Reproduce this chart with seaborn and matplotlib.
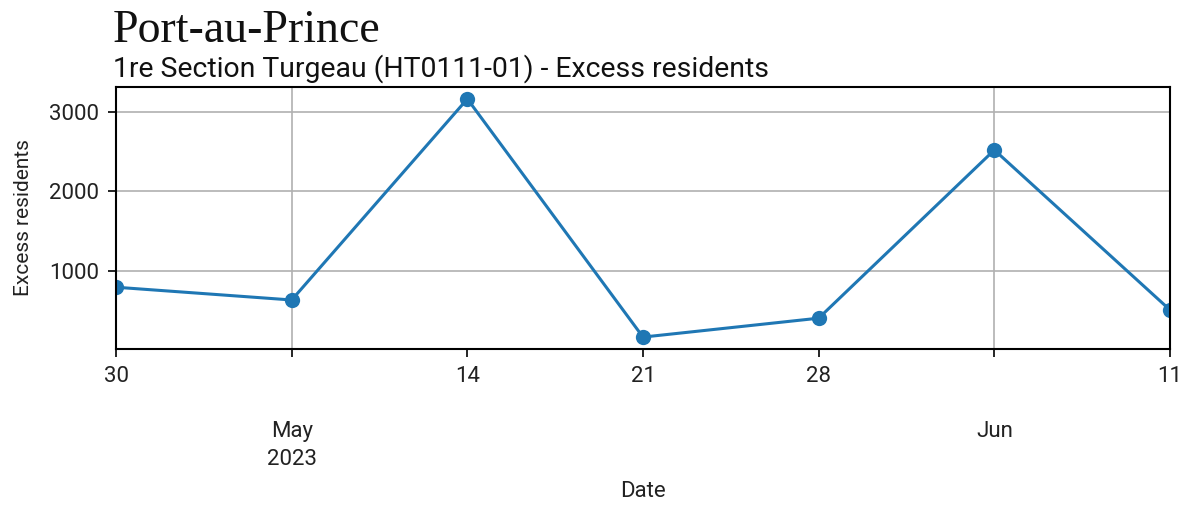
import pandas as pd
import matplotlib
matplotlib.use("Agg")
import matplotlib.pyplot as plt
import seaborn as sns

# weekly values
dates = ["2023-04-30", "2023-05-07", "2023-05-14", "2023-05-21",
         "2023-05-28", "2023-06-04", "2023-06-11"]
excess = [800, 640, 3160, 175, 412, 2520, 515]

major_dates = ["2023-05-07", "2023-06-04"]
major_labels = ["\n\nMay\n2023", "\n\nJun"]
minor_dates = ["2023-04-30", "2023-05-14", "2023-05-21", "2023-05-28", "2023-06-11"]
minor_labels = ["30", "14", "21", "28", "11"]

df = pd.DataFrame({"Date": pd.to_datetime(dates), "Excess residents": excess})

sns.set_style("white")
plt.rcParams["font.family"] = ["Roboto", "DejaVu Sans"]

fig = plt.figure(figsize=(11.9, 5.08), dpi=100)
ax = fig.add_axes([0.0975, 0.313, 0.8857, 0.5157])

sns.lineplot(data=df, x="Date", y="Excess residents", marker="o",
             color="#1f77b4", linewidth=2.2, markersize=11,
             markeredgewidth=0, ax=ax)

ax.set_xlim(df["Date"].iloc[0], df["Date"].iloc[-1])
ax.set_xticks(pd.to_datetime(major_dates))
ax.set_xticklabels(major_labels)
ax.set_xticks(pd.to_datetime(minor_dates), minor=True)
ax.set_xticklabels(minor_labels, minor=True)
ax.set_yticks([1000, 2000, 3000])

ax.tick_params(axis="both", which="both", labelsize=16, length=6, pad=6,
               width=1.2, color="black", labelcolor="#222222", bottom=True, left=True)
for lab in ax.get_xticklabels():
    lab.set_linespacing(1.42)
ax.grid(True, which="major", color="#b0b0b0", linewidth=1.2)
for s in ax.spines.values():
    s.set_color("black")
    s.set_linewidth(1.5)

ax.set_xlabel("Date", fontsize=16, color="#222222", labelpad=8)
ax.set_ylabel("Excess residents", fontsize=15, color="#222222", labelpad=12)

fig.text(0.095, 1 - 42 / 508, "Port-au-Prince", fontsize=33,
         family=["Liberation Serif", "DejaVu Serif"], va="baseline", color="#111111")
fig.text(0.095, 1 - 77 / 508, "1re Section Turgeau (HT0111-01) - Excess residents",
         fontsize=20.4, va="baseline", color="#111111")

fig.savefig("out.png", dpi=100)
